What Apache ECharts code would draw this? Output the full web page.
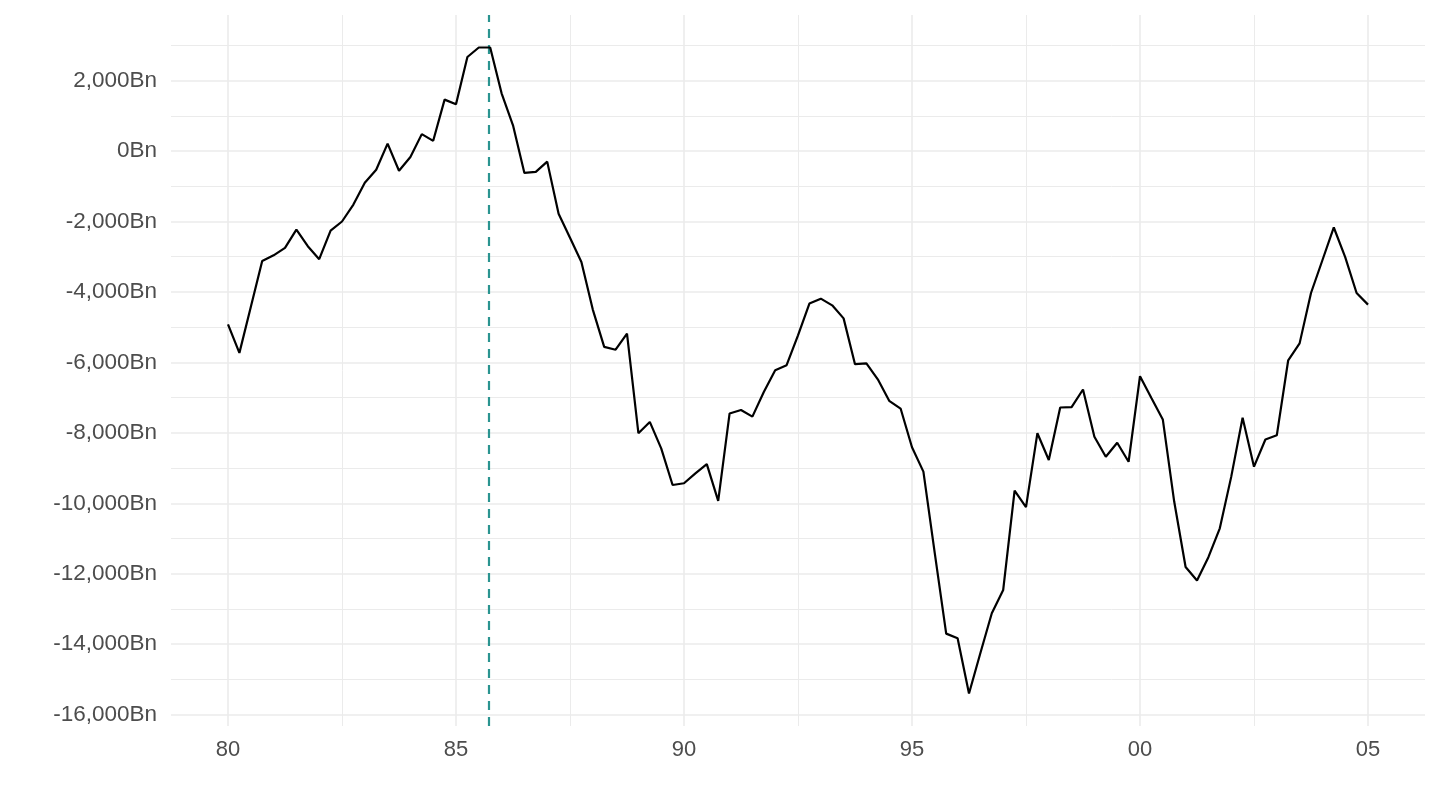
<!DOCTYPE html>
<html>
<head>
<meta charset="utf-8">
<script src="https://cdn.jsdelivr.net/npm/echarts@6/dist/echarts.min.js"></script>
<style>
html,body{margin:0;padding:0;background:#fff;}
#chart{width:1440px;height:810px;}
</style>
</head>
<body>
<div id="chart"></div>
<script>
// Quarterly dates (decimal years), 1980 Q1 .. 2005 Q1
const quarters = [
 1980.00,1980.25,1980.50,1980.75,1981.00,1981.25,1981.50,1981.75,1982.00,1982.25,1982.50,1982.75,
 1983.00,1983.25,1983.50,1983.75,1984.00,1984.25,1984.50,1984.75,1985.00,1985.25,1985.50,1985.75,
 1986.00,1986.25,1986.50,1986.75,1987.00,1987.25,1987.50,1987.75,1988.00,1988.25,1988.50,1988.75,
 1989.00,1989.25,1989.50,1989.75,1990.00,1990.25,1990.50,1990.75,1991.00,1991.25,1991.50,1991.75,
 1992.00,1992.25,1992.50,1992.75,1993.00,1993.25,1993.50,1993.75,1994.00,1994.25,1994.50,1994.75,
 1995.00,1995.25,1995.50,1995.75,1996.00,1996.25,1996.50,1996.75,1997.00,1997.25,1997.50,1997.75,
 1998.00,1998.25,1998.50,1998.75,1999.00,1999.25,1999.50,1999.75,2000.00,2000.25,2000.50,2000.75,
 2001.00,2001.25,2001.50,2001.75,2002.00,2002.25,2002.50,2002.75,2003.00,2003.25,2003.50,2003.75,
 2004.00,2004.25,2004.50,2004.75,2005.00
];
// Values, billions
const values = [
 -4920,-5730,-4430,-3120,-2960,-2750,-2230,-2700,-3070,-2260,-2000,-1520,
 -900,-530,210,-560,-170,480,290,1460,1330,2670,2940,2940,
 1640,730,-620,-590,-300,-1780,-2460,-3150,-4500,-5560,-5640,-5180,
 -8010,-7690,-8440,-9480,-9430,-9150,-8890,-9930,-7450,-7350,-7540,-6840,
 -6220,-6080,-5230,-4330,-4190,-4380,-4750,-6050,-6030,-6480,-7090,-7310,
 -8410,-9100,-11420,-13700,-13830,-15400,-14250,-13120,-12460,-9640,-10110,-8010,
 -8770,-7280,-7270,-6770,-8110,-8680,-8280,-8820,-6390,-7010,-7620,-9950,
 -11810,-12190,-11530,-10710,-9250,-7570,-8960,-8190,-8070,-5940,-5460,-4030,
 -3100,-2170,-3010,-4030,-4360
];
const eventDate = 1985.72; // vertical dashed marker
const xMajorTicks = [1980,1985,1990,1995,2000,2005];
const xMinorTicks = [1982.5,1987.5,1992.5,1997.5,2002.5];
const yMajorTicks = [-16000,-14000,-12000,-10000,-8000,-6000,-4000,-2000,0,2000];
const yMinorTicks = [-15000,-13000,-11000,-9000,-7000,-5000,-3000,-1000,1000,3000];

const xMin = 1978.75, xMax = 2006.25;
const yMin = -16322, yMax = 3862;

const FONT = '"Liberation Sans", Arial, Helvetica, sans-serif';
const gridColor = '#EBEBEB';

const chart = echarts.init(document.getElementById('chart'), null, {renderer:'canvas'});
const fmtY = v => {
  const s = Math.abs(v).toLocaleString('en-US');
  return (v < 0 ? '-' : '') + s + 'Bn';
};
const fmtX = v => String(Math.round(v) % 100).padStart(2,'0');

chart.setOption({
  backgroundColor:'#ffffff',
  animation:false,
  grid:{left:171, right:15, top:15, bottom:84, containLabel:false},
  xAxis:[
    {type:'value', min:xMin, max:xMax,
     axisLine:{show:false},
     axisTick:{show:false, customValues:xMajorTicks},
     axisLabel:{customValues:xMajorTicks, formatter:fmtX, color:'#4D4D4D', fontSize:22, fontFamily:FONT, margin:13},
     splitLine:{show:true, lineStyle:{color:gridColor, width:1.6}}},
    {type:'value', min:xMin, max:xMax, position:'bottom',
     axisLine:{show:false},
     axisTick:{show:false, customValues:xMinorTicks},
     axisLabel:{show:false, customValues:xMinorTicks},
     splitLine:{show:true, lineStyle:{color:gridColor, width:1}}}
  ],
  yAxis:[
    {type:'value', min:yMin, max:yMax,
     axisLine:{show:false},
     axisTick:{show:false, customValues:yMajorTicks},
     axisLabel:{customValues:yMajorTicks, formatter:fmtY, color:'#4D4D4D', fontSize:22.5, fontFamily:FONT, margin:14},
     splitLine:{show:true, lineStyle:{color:gridColor, width:1.6}}},
    {type:'value', min:yMin, max:yMax, position:'left',
     axisLine:{show:false},
     axisTick:{show:false, customValues:yMinorTicks},
     axisLabel:{show:false, customValues:yMinorTicks},
     splitLine:{show:true, lineStyle:{color:gridColor, width:1}}}
  ],
  series:[{
    type:'line',
    xAxisIndex:0, yAxisIndex:0,
    data: quarters.map((q,i)=>[q, values[i]]),
    showSymbol:false,
    lineStyle:{color:'#000000', width:2.2},
    z:5,
    markLine:{
      silent:true,
      symbol:['none','none'],
      label:{show:false},
      lineStyle:{color:'#2A9490', type:[9,7], width:2.2},
      data:[{xAxis:eventDate}]
    }
  }]
});
</script>
</body>
</html>
